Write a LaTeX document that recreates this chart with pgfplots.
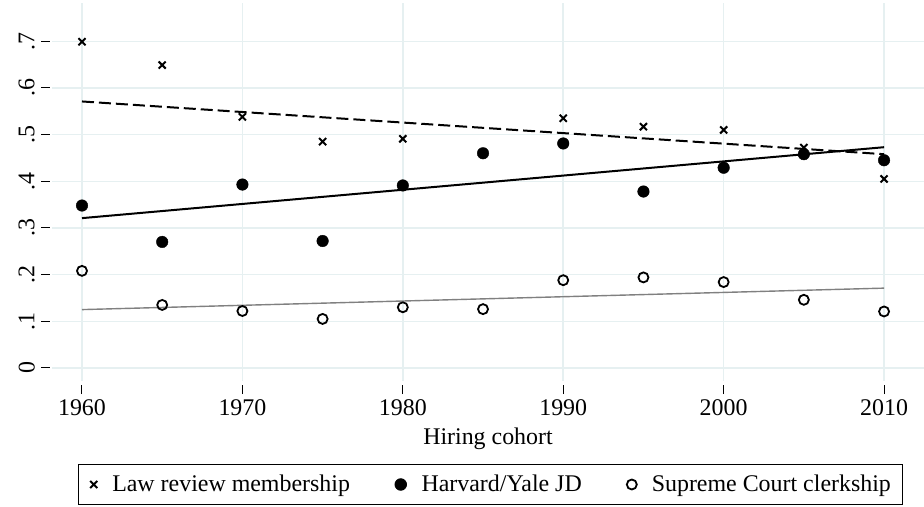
\documentclass[border=0pt]{standalone}
\usepackage{fontspec}
\setmainfont{Liberation Serif}
\usepackage{pgfplots}
\pgfplotsset{compat=1.18}
\definecolor{gridc}{RGB}{230,240,241}
\definecolor{fitgray}{RGB}{128,128,128}
\begin{document}
\fontsize{24}{28}\selectfont
\begin{tikzpicture}
\path[use as bounding box] (0,0) rectangle (924bp,507bp);
\begin{axis}[
  at={(52bp,126bp)}, anchor=south west,
  scale only axis, width=872bp, height=378bp,
  xmin=1958.13, xmax=2012.49, ymin=-0.028, ymax=0.782,
  axis line style={draw=none},
  xtick={1960,1970,1980,1990,2000,2010},
  xticklabels={1960,1970,1980,1990,2000,2010},
  ytick={0,0.1,0.2,0.3,0.4,0.5,0.6,0.7},
  yticklabels={0,.1,.2,.3,.4,.5,.6,.7},
  xtick pos=bottom, ytick pos=left,
  grid=major, grid style={gridc, line width=1.5bp},
  tick align=outside, major tick length=9bp,
  tick style={black, line width=1bp},
  xtick style={yshift=-4bp},
  ytick style={xshift=-2bp},
  xticklabel style={font=\fontsize{24}{28}\selectfont, yshift=-1bp},
  yticklabel style={rotate=90, anchor=south, font=\fontsize{24}{28}\selectfont},
  xlabel={Hiring cohort},
  xlabel style={font=\fontsize{24}{28}\selectfont, yshift=4bp},
  legend columns=3,
  legend style={at={(0.5029,-0.2196)}, anchor=north, draw=black, line width=0.8bp,
    font=\fontsize{24}{28}\selectfont,
    nodes={inner sep=0pt},
    /tikz/every odd column/.append style={column sep=15bp},
    /tikz/every even column/.append style={column sep=45bp},
    inner xsep=12bp, inner ysep=10bp},
  legend cell align=left,
]
% fitted lines
\addplot[black, line width=2bp, dash pattern=on 12bp off 5bp, forget plot] coordinates {(1960,0.571) (2010,0.458)};
\addplot[black, line width=2bp, forget plot] coordinates {(1960,0.321) (2010,0.473)};
\addplot[fitgray, line width=1.4bp, forget plot] coordinates {(1960,0.125) (2010,0.171)};
% scatters
\addplot[only marks, mark=x, mark size=5bp, mark options={black, line width=2bp}] coordinates {
(1960,0.699) (1965,0.649) (1970,0.538) (1975,0.485) (1980,0.491) (1985,0.460)
(1990,0.535) (1995,0.517) (2000,0.510) (2005,0.472) (2010,0.405)};
\addlegendentry{Law review membership}
\addplot[only marks, mark=*, mark size=5.8bp, mark options={black, fill=black}] coordinates {
(1960,0.348) (1965,0.270) (1970,0.393) (1975,0.272) (1980,0.391) (1985,0.460)
(1990,0.481) (1995,0.378) (2000,0.429) (2005,0.458) (2010,0.445)};
\addlegendentry{Harvard/Yale JD}
\addplot[only marks, mark=o, mark size=5bp, mark options={black, line width=1.8bp, fill=white}] coordinates {
(1960,0.208) (1965,0.135) (1970,0.122) (1975,0.105) (1980,0.130) (1985,0.126)
(1990,0.188) (1995,0.194) (2000,0.184) (2005,0.146) (2010,0.121)};
\addlegendentry{Supreme Court clerkship}
\end{axis}
\end{tikzpicture}
\end{document}
